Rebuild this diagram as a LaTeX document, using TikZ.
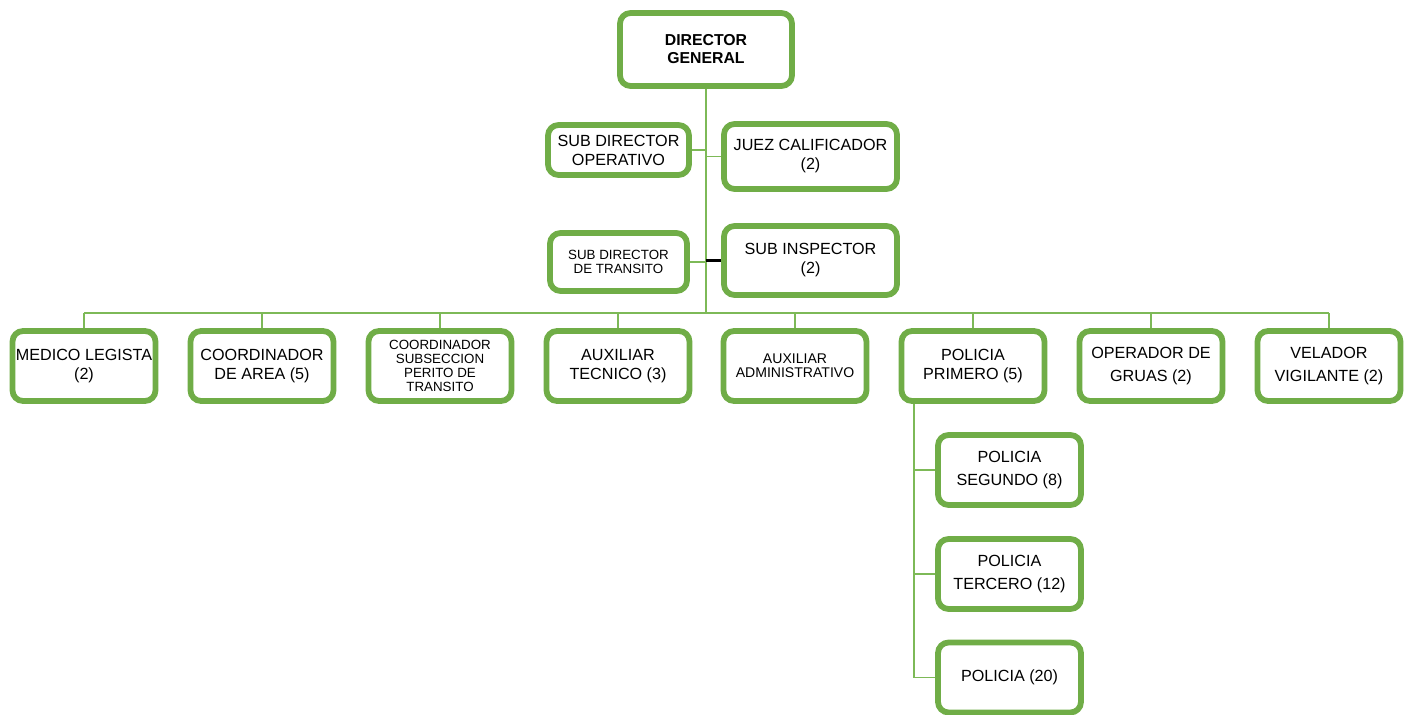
\documentclass[tikz,border=0pt]{standalone}
\usepackage{fontspec}
\setmainfont{Liberation Sans}
\usetikzlibrary{calc}

\definecolor{boxgreen}{HTML}{70AD47}
\definecolor{linegreen}{HTML}{7DB957}

\begin{document}
\begin{tikzpicture}[
    x=0.02cm, y=-0.02cm,
    box/.style={draw=boxgreen, line width=3.3pt, rounded corners=6pt, fill=white,
        align=center, inner sep=1pt, minimum width=2.86cm, minimum height=1.4cm,
        font=\fontsize{9.2}{10.8}\selectfont},
    airy/.style={font=\fontsize{9.2}{13.2}\selectfont},
    tiny/.style={font=\fontsize{7.6}{8.1}\selectfont},
    conn/.style={linegreen, line width=1.1pt},
  ]
  \useasboundingbox (0,0) rectangle (1410,715);

  % top
  \node[box, minimum width=3.44cm, minimum height=1.46cm,
    font=\bfseries\fontsize{9}{10.3}\selectfont] (dir) at (706,49.5) {DIRECTOR\\GENERAL};
  \node[box, minimum width=2.82cm, minimum height=1.0cm] (sdo) at (618.5,150) {SUB DIRECTOR\\OPERATIVO};
  \node[box, minimum width=3.46cm, minimum height=1.3cm] (juez) at (810.5,156.5) {JUEZ CALIFICADOR\\(2)};
  \node[box, tiny, minimum width=2.74cm, minimum height=1.16cm] (sdt) at (618.5,262) {SUB DIRECTOR\\DE TRANSITO};
  \node[box, minimum width=3.46cm, minimum height=1.38cm] (insp) at (810.5,260.5) {SUB INSPECTOR\\(2)};

  % bottom row
  \node[box] (b1) at (84,366) {MEDICO LEGISTA\\(2)};
  \node[box] (b2) at (262,366) {COORDINADOR\\DE AREA (5)};
  \node[box, tiny] (b3) at (440,366) {COORDINADOR\\SUBSECCION\\PERITO DE\\TRANSITO};
  \node[box, font=\fontsize{8}{8.2}\selectfont] (b5) at (795,366) {AUXILIAR\\ADMINISTRATIVO};
  \node[box] (b4) at (618,366) {AUXILIAR\\TECNICO (3)};
  \node[box] (b6) at (973,366) {POLICIA\\PRIMERO (5)};
  \node[box, airy] (b7) at (1151,366) {OPERADOR DE\\GRUAS (2)};
  \node[box, airy] (b8) at (1329,366) {VELADOR\\VIGILANTE (2)};

  % under policia primero
  \node[box, airy] (p1) at (1009.5,470) {POLICIA\\SEGUNDO (8)};
  \node[box, airy] (p2) at (1009.5,574) {POLICIA\\TERCERO (12)};
  \node[box] (p3) at (1009.5,677.5) {POLICIA (20)};

  \coordinate (bus) at (706,313);
  \coordinate (ptop) at (914,404);

  \draw[conn, line width=1.5pt] (dir.south) -- (bus);
  \draw[conn] (sdo.east) -- (sdo.east -| bus);
  \draw[conn] (juez.west) -- (juez.west -| bus);
  \draw[conn] (sdt.east) -- (sdt.east -| bus);
  \draw[black, line width=1.6pt] (insp.west) -- (insp.west -| bus);

  \draw[conn] (b1.north |- bus) -- (b8.north |- bus);
  \foreach \i in {1,...,8} {
      \draw[conn] (b\i.north) -- (b\i.north |- bus);
    }

  \draw[conn] (ptop) |- (p3.west);
  \foreach \j in {1,2} {
      \draw[conn] (ptop |- p\j.west) -- (p\j.west);
    }

\end{tikzpicture}
\end{document}
